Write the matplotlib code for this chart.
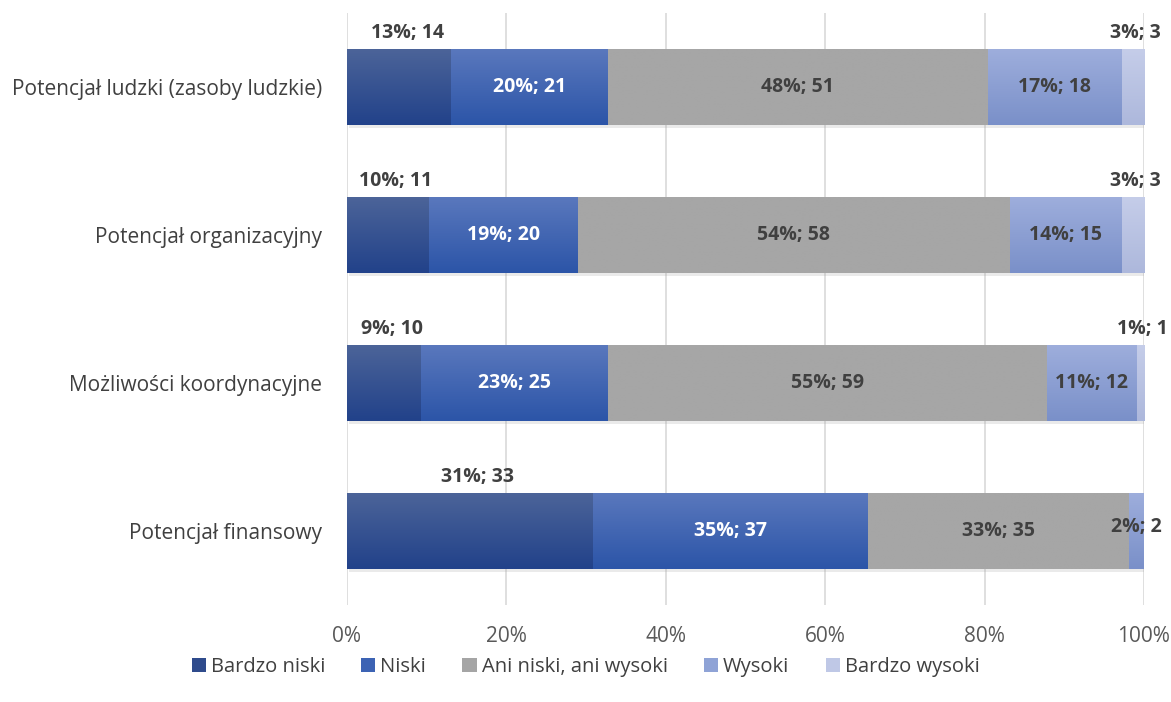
import numpy as np
import matplotlib
matplotlib.use("Agg")
import matplotlib.pyplot as plt
import matplotlib.patheffects as pe
from matplotlib.colors import LinearSegmentedColormap

plt.rcParams['font.family'] = ['Open Sans', 'DejaVu Sans']

# data
categories = ["Potencjał ludzki (zasoby ludzkie)", "Potencjał organizacyjny",
              "Możliwości koordynacyjne", "Potencjał finansowy"]
series = ["Bardzo niski", "Niski", "Ani niski, ani wysoki", "Wysoki", "Bardzo wysoki"]
bardzo_niski = [14, 11, 10, 33]
niski = [21, 20, 25, 37]
ani = [51, 58, 59, 35]
wysoki = [18, 15, 12, 2]
bardzo_wysoki = [3, 3, 1, 0]
ticks = [0, 20, 40, 60, 80, 100]

counts = np.array([bardzo_niski, niski, ani, wysoki, bardzo_wysoki], dtype=float)
totals = counts.sum(axis=0)
pct = counts / totals * 100

# gradient colours (top, bottom) and legend colour
grads = [("#4c6499", "#22428a"), ("#5a78bd", "#2c55a8"), ("#a6a6a6", "#a6a6a6"),
         ("#9eaedc", "#7a90c9"), ("#c5cde9", "#adb8dc")]
solid = ["#2f4b8c", "#3c63b4", "#a5a5a5", "#8fa3d6", "#bfc8e6"]
label_col = ["#404040", "white", "#404040", "#404040", "#404040"]

fig = plt.figure(figsize=(11.71, 7.02), dpi=100)
ax = fig.add_axes([0.2963, 0.1382, 0.6806, 0.8433])

y = np.arange(len(categories))
h = 0.515
fs = 14
left = np.zeros(len(categories))
for i, name in enumerate(series):
    bars = ax.barh(y, pct[i], left=left, height=h, color=solid[i], label=name,
                   zorder=3, linewidth=0)
    cmap = LinearSegmentedColormap.from_list("g%d" % i, [grads[i][0], grads[i][1]])
    for j, rect in enumerate(bars):
        if pct[i][j] <= 0:
            continue
        rect.set_path_effects([pe.SimplePatchShadow(offset=(1.5, -2), shadow_rgbFace="#999999",
                                                    alpha=0.2), pe.Normal()])
        x0, x1 = left[j], left[j] + pct[i][j]
        img = ax.imshow(np.linspace(0, 1, 50).reshape(-1, 1), cmap=cmap, aspect="auto",
                        extent=(x0, x1, y[j] + h / 2, y[j] - h / 2), zorder=4,
                        interpolation="bilinear")
        img.set_clip_path(rect)
        txt = "%d%%; %d" % (round(pct[i][j]), counts[i][j])
        cx = (x0 + x1) / 2
        if i == 0:
            ax.text(cx + 1, y[j] - h / 2 - 0.04, txt, ha="center", va="bottom",
                    fontsize=fs, fontweight="bold", color="#404040", zorder=6)
        elif i == 4:
            ax.text(cx + 0.3, y[j] - h / 2 - 0.04, txt, ha="center", va="bottom",
                    fontsize=fs, fontweight="bold", color="#404040", zorder=6)
        else:
            dy = -0.03 if pct[i][j] < 5 else 0.0
            ax.text(cx, y[j] + dy, txt, ha="center", va="center",
                    fontsize=fs, fontweight="bold", color=label_col[i], zorder=6)
    left = left + pct[i]

ax.set_xlim(0, 100)
ax.set_ylim(3.5, -0.5)
ax.set_yticks(y)
ax.set_yticklabels(categories, fontsize=15, color="#404040")
ax.set_xticks(ticks)
ax.set_xticklabels(["%d%%" % t for t in ticks], fontsize=15, color="#595959")
ax.tick_params(length=0)
ax.tick_params(axis="y", pad=18)
ax.tick_params(axis="x", pad=15)
ax.grid(axis="x", color="#d9d9d9", linewidth=1.2, zorder=0)
for s in ax.spines.values():
    s.set_visible(False)

leg = fig.legend(loc="lower center", bbox_to_anchor=(0.5, 0.01), ncol=5, frameon=False,
                 fontsize=14.5, handlelength=0.7, handleheight=0.7, handletextpad=0.25,
                 columnspacing=1.8, labelcolor="#404040")
for p in leg.get_patches():
    p.set_path_effects([])

fig.savefig("out.png", dpi=100)
